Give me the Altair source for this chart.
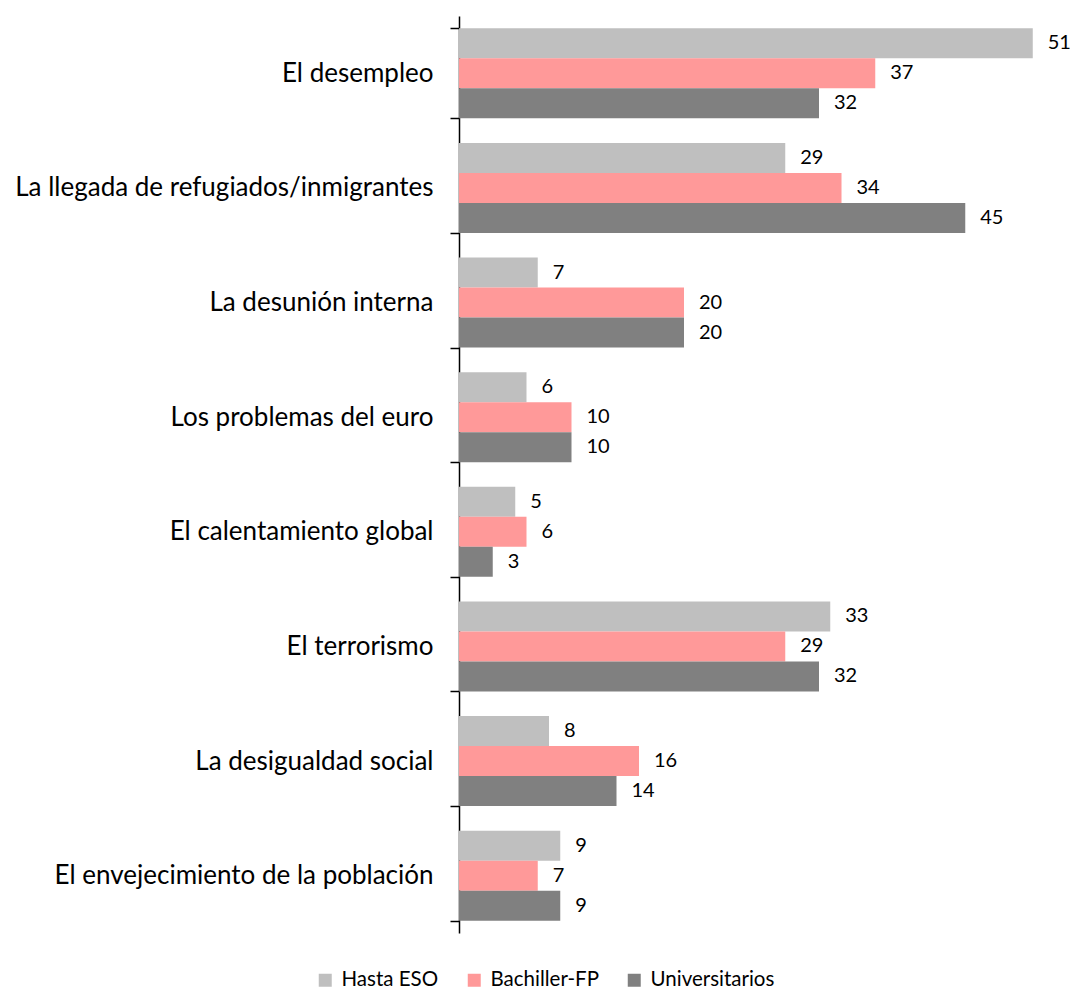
import altair as alt
import pandas as pd

categories = [
    "El desempleo",
    "La llegada de refugiados/inmigrantes",
    "La desunión interna",
    "Los problemas del euro",
    "El calentamiento global",
    "El terrorismo",
    "La desigualdad social",
    "El envejecimiento de la población",
]
series = ["Hasta ESO", "Bachiller-FP", "Universitarios"]
hasta_eso = [51, 29, 7, 6, 5, 33, 8, 9]
bachiller_fp = [37, 34, 20, 10, 6, 29, 16, 7]
universitarios = [32, 45, 20, 10, 3, 32, 14, 9]
colors = ["#BFBFBF", "#FF9999", "#808080"]

rows = []
for s, vals in zip(series, [hasta_eso, bachiller_fp, universitarios]):
    for c, v in zip(categories, vals):
        rows.append({"cat": c, "serie": s, "valor": v})
df = pd.DataFrame(rows)

FONT = "Lato"

y_enc = alt.Y(
    "cat:N",
    sort=categories,
    title=None,
    scale=alt.Scale(paddingInner=0.215, paddingOuter=0.1075),
    axis=alt.Axis(
        tickBand="extent",
        domainColor="black",
        domainWidth=1.5,
        tickColor="black",
        tickWidth=1.5,
        tickSize=9,
        labelFont=FONT,
        labelFontSize=26,
        labelColor="black",
        labelPadding=17,
        labelLimit=600,
        grid=False,
    ),
)
x_enc = alt.X("valor:Q", axis=None, scale=alt.Scale(domain=[0, 54.31], nice=False, zero=True))
yoff = alt.YOffset("serie:N", sort=series, scale=alt.Scale(paddingInner=0, paddingOuter=0))

base = alt.Chart(df)

bars = base.mark_bar().encode(
    y=y_enc,
    x=x_enc,
    yOffset=yoff,
    color=alt.Color(
        "serie:N",
        sort=series,
        scale=alt.Scale(domain=series, range=colors),
        legend=alt.Legend(
            title=None,
            orient="none",
            direction="horizontal",
            legendX=-144,
            legendY=954,
            gridAlign="none",
            symbolType="square",
            symbolSize=169,
            symbolStrokeWidth=0,
            symbolOpacity=1,
            labelFont=FONT,
            labelFontSize=20.5,
            labelColor="black",
            labelOffset=6,
            columnPadding=25,
            padding=0,
        ),
    ),
)

labels = base.mark_text(align="left", baseline="middle", dx=15, font=FONT, fontSize=20, color="black").encode(
    y=alt.Y("cat:N", sort=categories),
    x=alt.X("valor:Q", axis=None),
    yOffset=yoff,
    text=alt.Text("valor:Q"),
)

chart = (
    alt.layer(bars, labels)
    .properties(
        width=611,
        height=917,
        autosize=alt.AutoSizeParams(type="none"),
        padding={"left": 451, "top": 8, "right": 0, "bottom": 57},
        view=alt.ViewBackground(stroke="transparent", strokeWidth=0),
    )
    .configure_view(strokeWidth=0, stroke="transparent", strokeOpacity=0)
    .configure_axisX(grid=False, domain=False, ticks=False, labels=False)
    .configure(background="white")
)

chart.save("out.html", embed_options={"renderer": "svg", "actions": False})
